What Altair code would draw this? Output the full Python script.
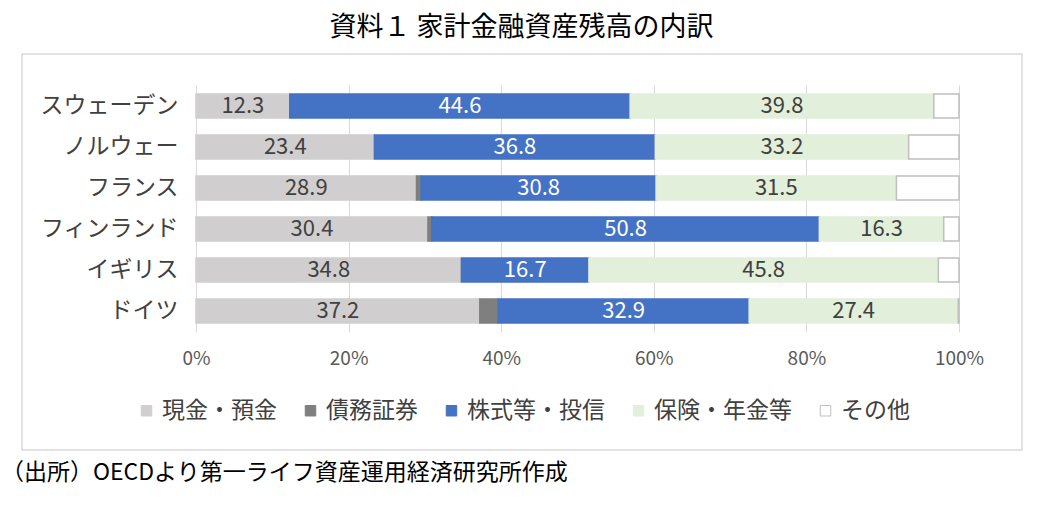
import altair as alt
import pandas as pd

countries = ["スウェーデン", "ノルウェー", "フランス", "フィンランド", "イギリス", "ドイツ"]
categories = ["現金・預金", "債務証券", "株式等・投信", "保険・年金等", "その他"]
cash = [12.3, 23.4, 28.9, 30.4, 34.8, 37.2]
bonds = [0.0, 0.0, 0.6, 0.5, 0.0, 2.4]
stocks = [44.6, 36.8, 30.8, 50.8, 16.7, 32.9]
insurance = [39.8, 33.2, 31.5, 16.3, 45.8, 27.4]
other = [3.3, 6.6, 8.2, 2.0, 2.7, 0.1]
labelled = ["現金・預金", "株式等・投信", "保険・年金等"]
x_ticks = [0, 20, 40, 60, 80, 100]

fills = ["#D0CECE", "#7F7F7F", "#4472C4", "#E2EFDA", "#FFFFFF"]
strokes = ["#D0CECE", "#7F7F7F", "#4472C4", "#E2EFDA", "#BFBFBF"]

title_text = "資料１ 家計金融資産残高の内訳"
source_text = "（出所）OECDより第一ライフ資産運用経済研究所作成"

rows = []
series = [cash, bonds, stocks, insurance, other]
for i, c in enumerate(countries):
    for j, cat in enumerate(categories):
        rows.append({"country": c, "category": cat, "order": j, "value": series[j][i]})
df = pd.DataFrame(rows)

FONT = "Noto Sans CJK JP"

base = alt.Chart(df).transform_stack(
    stack="value", as_=["x0", "x1"], groupby=["country"], sort=[alt.SortField("order")]
)

y_enc = alt.Y(
    "country:N",
    sort=countries,
    title=None,
    scale=alt.Scale(paddingInner=0.415, paddingOuter=0.22),
    axis=alt.Axis(
        labelFontSize=23, labelColor="#404040", labelFont=FONT, labelPadding=18,
        ticks=False, domain=False, grid=False,
    ),
)

bars = base.mark_bar(strokeWidth=1.5).encode(
    y=y_enc,
    x=alt.X(
        "x0:Q",
        title=None,
        scale=alt.Scale(domain=[0, 100], nice=False),
        axis=alt.Axis(
            values=x_ticks, labelExpr="datum.value + '%'", labelFontSize=19,
            labelColor="#595959", labelFont=FONT, labelPadding=17, ticks=False,
            labelFlush=False, domain=False, grid=True, gridColor="#D9D9D9", gridWidth=1,
        ),
    ),
    x2="x1:Q",
    color=alt.Color(
        "category:N", sort=categories,
        scale=alt.Scale(domain=categories, range=fills),
        legend=alt.Legend(title=None),
    ),
    stroke=alt.Stroke(
        "category:N", sort=categories,
        scale=alt.Scale(domain=categories, range=strokes),
        legend=alt.Legend(title=None),
    ),
    order=alt.Order("order:Q"),
)

labels = base.transform_filter(
    alt.FieldOneOfPredicate(field="category", oneOf=labelled)
).transform_calculate(mid="(datum.x0 + datum.x1) / 2").mark_text(
    fontSize=22, font=FONT, baseline="middle", align="center"
).encode(
    y=alt.Y("country:N", sort=countries),
    x=alt.X("mid:Q"),
    text=alt.Text("value:Q", format=".1f"),
    color=alt.condition(
        alt.datum.category == "株式等・投信", alt.value("#FFFFFF"), alt.value("#404040")
    ),
)

one = pd.DataFrame({"a": [0]})
frame = alt.Chart(one).mark_rect(fillOpacity=0, stroke="#D9D9D9", strokeWidth=1.5).encode(
    x=alt.value(-174), x2=alt.value(826), y=alt.value(-31), y2=alt.value(365)
)
source = alt.Chart(one).mark_text(
    fontSize=23, font=FONT, align="left", baseline="middle", color="#000000"
).encode(x=alt.value(-195), y=alt.value(388), text=alt.value(source_text))

chart = alt.layer(frame, bars, labels, source).properties(
    width=763,
    height=247,
    autosize=alt.AutoSizeParams(type="none"),
    padding={"left": 196, "top": 85, "right": 86, "bottom": 173},
    title=alt.TitleParams(
        title_text, fontSize=27, font=FONT, color="#000000", anchor="middle",
        frame="group", dx=-56, offset=11, fontWeight="normal",
    ),
).configure_view(stroke=None).configure_legend(
    orient="none", legendX=-61, legendY=314, direction="horizontal",
    symbolType="square", symbolSize=110, symbolStrokeWidth=1,
    labelFontSize=23, labelFont=FONT, labelColor="#404040",
    columnPadding=22, labelOffset=4,
)

chart.save("out.html", embed_options={"renderer": "svg", "actions": False})
